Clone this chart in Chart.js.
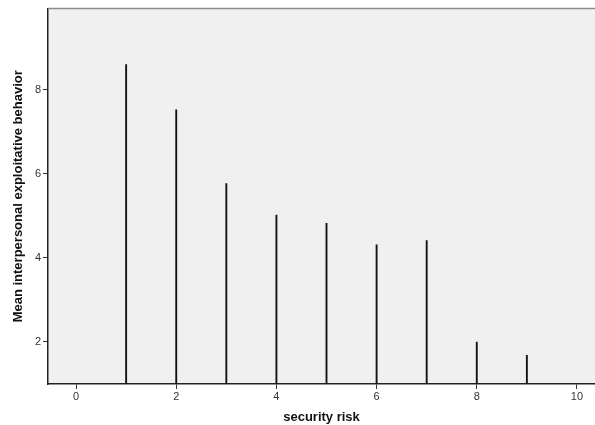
<!DOCTYPE html>
<html>
<head>
<meta charset="utf-8">
<script src="https://cdn.jsdelivr.net/npm/chart.js@4"></script>
<style>
  html, body { margin: 0; padding: 0; background: #fff; }
  #wrap { width: 595px; height: 425px; }
</style>
</head>
<body>
<div id="wrap"><canvas id="chart" width="595" height="425"></canvas></div>
<script>
// security risk categories and mean values
const riskLevels = [1, 2, 3, 4, 5, 6, 7, 8, 9];
const meanExploit = [8.6, 7.52, 5.77, 5.02, 4.82, 4.31, 4.41, 2.0, 1.68];
const xTicks = [0, 2, 4, 6, 8, 10];
const yTicks = [2, 4, 6, 8];

// grey plot background + top border
const plotBg = {
  id: 'plotBg',
  beforeDraw(chart) {
    const { ctx, chartArea: a } = chart;
    ctx.save();
    ctx.fillStyle = '#f0f0f0';
    ctx.fillRect(a.left, a.top, a.right - a.left, a.bottom - a.top);
    ctx.restore();
  },
  afterDraw(chart) {
    const { ctx, chartArea: a } = chart;
    ctx.save();
    ctx.strokeStyle = '#8a8a8a';
    ctx.lineWidth = 1.5;
    ctx.beginPath();
    ctx.moveTo(a.left, a.top);
    ctx.lineTo(a.right, a.top);
    ctx.stroke();
    ctx.restore();
  }
};

const tickFont = { family: 'Arial, "Liberation Sans", sans-serif', size: 11 };
const titleFont = { family: 'Arial, "Liberation Sans", sans-serif', size: 13, weight: 'bold' };

new Chart(document.getElementById('chart'), {
  type: 'bar',
  data: {
    datasets: [{
      data: riskLevels.map((x, i) => ({ x: x, y: meanExploit[i] })),
      backgroundColor: '#111',
      barThickness: 1.2,
      base: 1
    }]
  },
  options: {
    responsive: false,
    animation: false,
    layout: { padding: { top: 6, right: 0, left: 0, bottom: 0 } },
    plugins: { legend: { display: false }, tooltip: { enabled: false } },
    scales: {
      x: {
        type: 'linear',
        offset: false,
        min: -0.56,
        max: 10.36,
        afterBuildTicks: (axis) => { axis.ticks = xTicks.map(v => ({ value: v })); },
        afterFit: (axis) => { axis.height = 41; },
        grid: { offset: false, drawOnChartArea: false, drawTicks: true, tickLength: 5, color: '#333', lineWidth: 1 },
        border: { color: '#222', width: 1.5 },
        ticks: { color: '#333', font: tickFont, padding: 1, maxRotation: 0 },
        title: {
          display: true,
          text: 'security risk',
          color: '#111',
          font: titleFont,
          padding: { top: 3, bottom: 0 }
        }
      },
      y: {
        min: 1,
        max: 9.93,
        afterBuildTicks: (axis) => { axis.ticks = yTicks.map(v => ({ value: v })); },
        afterFit: (axis) => { axis.width = 48; },
        grid: { drawOnChartArea: false, drawTicks: true, tickLength: 5, color: '#333', lineWidth: 1 },
        border: { color: '#222', width: 1.5 },
        ticks: { color: '#333', font: tickFont, padding: 2 },
        title: {
          display: true,
          text: 'Mean interpersonal exploitative behavior',
          color: '#111',
          font: titleFont,
          padding: { top: 11, bottom: 0 }
        }
      }
    }
  },
  plugins: [plotBg]
});
</script>
</body>
</html>
